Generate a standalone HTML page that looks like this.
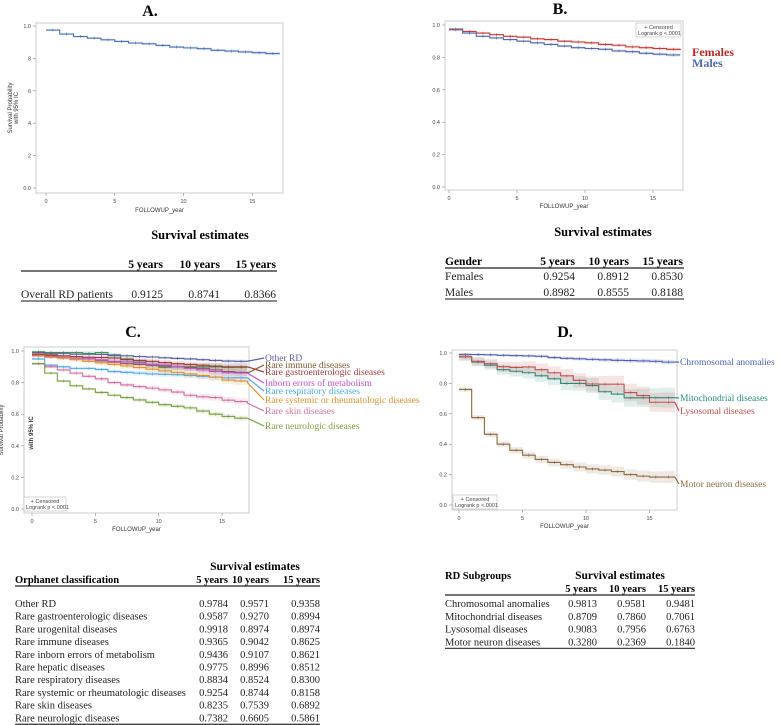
<!DOCTYPE html>
<html><head><meta charset="utf-8"><style>
html,body{margin:0;padding:0;background:#fff;}
svg{display:block;}
.tick{font-family:"Liberation Sans",sans-serif;font-size:5.5px;fill:#444;}
.axl{font-family:"Liberation Sans",sans-serif;font-size:6px;fill:#333;}
.ser{font-family:"Liberation Serif",serif;}
</style></head><body>
<svg id="fig" width="781" height="725" viewBox="0 0 781 725" xmlns="http://www.w3.org/2000/svg"></svg>
<script>
// ---------- data ----------
const years = [0,1,2,3,4,5,6,7,8,9,10,11,12,13,14,15,16,17];
const xTicks = [0,5,10,15];
const yTicks = [0,0.2,0.4,0.6,0.8,1.0];
const yTickLabelsA = ["0.0","2","4","6","8","1.0"];
const yTickLabels = ["0.0","0.2","0.4","0.6","0.8","1.0"];

const overallA = [0.975,0.95,0.935,0.925,0.915,0.905,0.895,0.89,0.88,0.87,0.865,0.86,0.85,0.845,0.84,0.835,0.83,0.83];

const femalesB = [0.975,0.96,0.95,0.94,0.93,0.925,0.915,0.91,0.90,0.895,0.89,0.88,0.875,0.865,0.86,0.855,0.85,0.845];
const malesB = [0.97,0.95,0.93,0.92,0.91,0.90,0.89,0.88,0.87,0.86,0.855,0.85,0.84,0.835,0.825,0.82,0.815,0.815];

const otherRD = [0.99,0.985,0.985,0.98,0.98,0.978,0.975,0.97,0.965,0.962,0.957,0.953,0.95,0.945,0.94,0.936,0.935,0.935];
const urogenital = [0.995,0.99,0.99,0.99,0.985,0.99,0.97,0.95,0.93,0.91,0.897,0.9,0.9,0.9,0.9,0.897,0.897,0.897];
const immune = [0.975,0.97,0.96,0.955,0.95,0.937,0.93,0.92,0.915,0.91,0.904,0.9,0.895,0.89,0.88,0.87,0.865,0.86];
const gastro = [0.98,0.975,0.97,0.965,0.96,0.959,0.955,0.945,0.94,0.935,0.927,0.92,0.915,0.91,0.905,0.9,0.9,0.9];
const inborn = [0.97,0.965,0.96,0.955,0.95,0.944,0.935,0.93,0.925,0.915,0.911,0.9,0.89,0.88,0.87,0.862,0.86,0.86];
const respiratory = [0.95,0.91,0.9,0.89,0.89,0.883,0.87,0.865,0.86,0.855,0.852,0.85,0.845,0.84,0.835,0.83,0.83,0.83];
const systemic = [0.97,0.96,0.955,0.945,0.935,0.925,0.915,0.905,0.895,0.885,0.874,0.865,0.855,0.845,0.835,0.816,0.81,0.80];
const skin = [0.92,0.9,0.88,0.86,0.84,0.824,0.8,0.785,0.775,0.765,0.754,0.74,0.72,0.71,0.705,0.689,0.68,0.67];
const neuro = [0.92,0.86,0.81,0.78,0.76,0.738,0.72,0.705,0.69,0.675,0.66,0.65,0.64,0.62,0.6,0.586,0.575,0.575];

const chromosomal = [0.99,0.99,0.988,0.985,0.983,0.981,0.978,0.97,0.965,0.962,0.958,0.955,0.952,0.95,0.948,0.945,0.94,0.94];
const mitochondrial = [0.975,0.94,0.92,0.89,0.88,0.87,0.85,0.83,0.80,0.80,0.786,0.745,0.73,0.705,0.705,0.706,0.706,0.706];
const lysosomal = [0.975,0.945,0.93,0.91,0.905,0.908,0.89,0.87,0.85,0.82,0.796,0.795,0.795,0.74,0.72,0.676,0.676,0.676];
const motor = [0.76,0.575,0.465,0.40,0.36,0.328,0.30,0.28,0.265,0.25,0.237,0.23,0.22,0.2,0.19,0.184,0.184,0.184];

const colHeads = ["5 years","10 years","15 years"];
const tableARows = [["Overall RD patients","0.9125","0.8741","0.8366"]];
const tableBRows = [["Females","0.9254","0.8912","0.8530"],["Males","0.8982","0.8555","0.8188"]];
const tableCRows = [
 ["Other RD","0.9784","0.9571","0.9358"],
 ["Rare gastroenterologic diseases","0.9587","0.9270","0.8994"],
 ["Rare urogenital diseases","0.9918","0.8974","0.8974"],
 ["Rare immune diseases","0.9365","0.9042","0.8625"],
 ["Rare inborn errors of metabolism","0.9436","0.9107","0.8621"],
 ["Rare hepatic diseases","0.9775","0.8996","0.8512"],
 ["Rare respiratory diseases","0.8834","0.8524","0.8300"],
 ["Rare systemic or rheumatologic diseases","0.9254","0.8744","0.8158"],
 ["Rare skin diseases","0.8235","0.7539","0.6892"],
 ["Rare neurologic diseases","0.7382","0.6605","0.5861"]];
const tableDRows = [
 ["Chromosomal anomalies","0.9813","0.9581","0.9481"],
 ["Mitochondrial diseases","0.8709","0.7860","0.7061"],
 ["Lysosomal diseases","0.9083","0.7956","0.6763"],
 ["Motor neuron diseases","0.3280","0.2369","0.1840"]];

// ---------- helpers ----------
const NS="http://www.w3.org/2000/svg";
const fig=document.getElementById('fig');
function mk(tag,attrs,parent,txt){const e=document.createElementNS(NS,tag);for(const k in attrs)e.setAttribute(k,attrs[k]);if(txt!==undefined)e.textContent=txt;(parent||fig).appendChild(e);return e;}

function panel(cfg){
  const g=mk('g',{});
  
  
  const sx=t=>cfg.x0+t*cfg.px;
  const sy=v=>cfg.yAt0+(cfg.yAt1-cfg.yAt0)*v;
  const [l,t,r,b]=cfg.box;
  const frame=mk('rect',{x:l,y:t,width:r-l,height:b-t,fill:'none',stroke:'#c8ccd2','stroke-width':1},g);
  
  
  yTicks.forEach((v,i)=>{
    mk('line',{x1:l-3,x2:l,y1:sy(v),y2:sy(v),stroke:'#888','stroke-width':0.6},g);
    const tx=mk('text',{x:l-5,y:sy(v)+2,'text-anchor':'end',class:'tick'},g,cfg.yLabels[i]);
    
    
  });
  xTicks.forEach(v=>{
    mk('line',{x1:sx(v),x2:sx(v),y1:b,y2:b+3,stroke:'#888','stroke-width':0.6},g);
    const tx=mk('text',{x:sx(v),y:b+10,'text-anchor':'middle',class:'tick'},g,String(v));
    
    
  });
  const xl=mk('text',{x:(l+r)/2,y:cfg.xlabY,'text-anchor':'middle',class:'axl'},g,'FOLLOWUP_year');
  
  
  cfg.series.forEach(s=>{
    const up=[],lo=[];
    years.forEach((yr,i)=>{const nx=i<years.length-1?years[i+1]:yr;
      up.push([sx(yr),sy(Math.min(1,s.v[i]+s.ci*(1+i/10))),sx(nx)]);
      lo.push([sx(yr),sy(Math.max(0,s.v[i]-s.ci*(1+i/10))),sx(nx)]);});
    let d='M'+up[0][0]+','+up[0][1];
    up.forEach(p=>{d+=' L'+p[0]+','+p[1]+' L'+p[2]+','+p[1];});
    for(let i=lo.length-1;i>=0;i--){d+=' L'+lo[i][2]+','+lo[i][1]+' L'+lo[i][0]+','+lo[i][1];}
    d+='Z';
    const bd=mk('path',{d:d,fill:s.c,'fill-opacity':0.15,stroke:'none'},g);
    
    
    let p='M'+sx(0)+','+sy(s.v[0]);
    years.forEach((yr,i)=>{
      if(i>0)p+=' L'+sx(yr)+','+sy(s.v[i-1])+' L'+sx(yr)+','+sy(s.v[i]);
    });
    p+=' L'+sx(17)+','+sy(s.v[17]);
    const ln=mk('path',{d:p,fill:'none',stroke:s.c,'stroke-width':1.1},g);
    
    
    years.forEach((yr,i)=>{ if(i>0){const cx=sx(yr-0.5);
      mk('line',{x1:cx,x2:cx,y1:sy(s.v[i-1])-1.5,y2:sy(s.v[i-1])+1.5,stroke:s.c,'stroke-width':0.6},g);}});
    if(s.label){
      const lk=mk('line',{x1:sx(17),y1:sy(s.v[17]),x2:cfg.labX-1,y2:s.ly-3,stroke:s.c,'stroke-width':1.2},g);
      
      
      const lt=mk('text',{x:cfg.labX,y:s.ly,fill:s.lc||s.c,class:'ser','font-size':cfg.labFs,'font-weight':cfg.labBold?'bold':'normal'},g,s.label);
      
      
    }
  });
  return {g,sx,sy};
}

function title(x,y,txt,name){const t=mk('text',{x:x,y:y,'text-anchor':'middle',class:'ser','font-size':16,'font-weight':'bold'},fig,txt);
  }

function censorBox(x,y,w,name){const g=mk('g',{});
  
  mk('rect',{x:x,y:y,width:w,height:14,fill:'#fff',stroke:'#bbb','stroke-width':0.6},g);
  mk('text',{x:x+w/2,y:y+6,'text-anchor':'middle',class:'tick','font-size':4.5},g,'+ Censored');
  mk('text',{x:x+2,y:y+12,class:'tick','font-size':4.5},g,'Logrank p <.0001');}

function table(cfg){
  const g=mk('g',{});
  
  const fs=cfg.fs;
  if(cfg.title){const t=mk('text',{x:cfg.titleX,y:cfg.titleY,'text-anchor':'middle',class:'ser','font-size':fs+1,'font-weight':'bold'},g,'Survival estimates');
    }
  if(cfg.firstHead){const t=mk('text',{x:cfg.left,y:cfg.firstHeadY||cfg.headY,class:'ser','font-size':fs,'font-weight':'bold'},g,cfg.firstHead);
    }
  colHeads.forEach((h,i)=>{const t=mk('text',{x:cfg.cols[i],y:cfg.headY,'text-anchor':'end',class:'ser','font-size':fs,'font-weight':'bold'},g,h);
    });
  mk('line',{x1:cfg.left,x2:cfg.right,y1:cfg.headY+3,y2:cfg.headY+3,stroke:'#222','stroke-width':1.3},g);
  cfg.rows.forEach((r,i)=>{const y=cfg.row0+i*cfg.step;
    const t=mk('text',{x:cfg.left,y:y,class:'ser','font-size':fs,fill:'#222'},g,r[0]);
    
    for(let j=1;j<4;j++){const v=mk('text',{x:cfg.cols[j-1],y:y,'text-anchor':'end',class:'ser','font-size':fs,fill:'#222'},g,r[j]);
      }});
  const by=cfg.row0+(cfg.rows.length-1)*cfg.step+3;
  mk('line',{x1:cfg.left,x2:cfg.right,y1:by,y2:by,stroke:'#444','stroke-width':1.3},g);
}

// ---------- Panel A ----------
title(150,16,'A.','panel-a-title');
panel({name:'panel-a-chart',box:[36,23,283,193],x0:46,px:13.75,yAt1:26,yAt0:188,yLabels:yTickLabelsA,xlabY:212,
  series:[{id:'overall',v:overallA,c:'#4a72b8',ci:0.004}]});
mk('text',{x:12,y:108,'text-anchor':'middle',class:'axl','font-size':5.5,transform:'rotate(-90 12 108)'},fig,'Survival Probability');
mk('text',{x:18,y:108,'text-anchor':'middle',class:'axl','font-size':5.5,transform:'rotate(-90 18 108)'},fig,'with 95% IC');
table({name:'table-a',fs:11.5,title:true,titleX:200,titleY:239,headY:268,left:21,right:277,cols:[163,220,276],rows:tableARows,row0:298,step:16});

// ---------- Panel B ----------
title(560,14,'B.','panel-b-title');
panel({name:'panel-b-chart',box:[445,21,683,190],x0:449,px:13.6,yAt1:25,yAt0:187,yLabels:yTickLabels,xlabY:208,labX:692,labFs:12,labBold:true,
  series:[{id:'females',v:femalesB,c:'#c83a3a',ci:0.004},{id:'males',v:malesB,c:'#5068b0',ci:0.004}]});
mk('text',{x:692,y:56,class:'ser','font-size':12,'font-weight':'bold',fill:'#c02828'},fig,'Females');
mk('text',{x:692,y:67,class:'ser','font-size':12,'font-weight':'bold',fill:'#5068b0'},fig,'Males');
censorBox(636,23,45,'panel-b-legend');
table({name:'table-b',fs:11.5,title:true,titleX:603,titleY:236,firstHead:'Gender',headY:265,left:445,right:684,cols:[575,629,683],rows:tableBRows,row0:280,step:16});

// ---------- Panel C ----------
title(133,337,'C.','panel-c-title');
panel({name:'panel-c-chart',box:[24,347,249,513],x0:32,px:12.67,yAt1:351,yAt0:509,yLabels:yTickLabels,xlabY:531,labX:265,labFs:9.5,
  series:[
   {id:'urogenital',v:urogenital,c:'#3a9a50',ci:0.01},
   {id:'other-rd',v:otherRD,c:'#5a5fa5',ci:0.004,label:'Other RD',ly:361},
   {id:'immune',v:immune,c:'#7a5a30',ci:0.01,label:'Rare immune diseases',ly:368},
   {id:'gastro',v:gastro,c:'#a03a3a',ci:0.008,label:'Rare gastroenterologic diseases',ly:375},
   {id:'inborn',v:inborn,c:'#c050d0',ci:0.008,label:'Inborn errors of metabolism',ly:386},
   {id:'respiratory',v:respiratory,c:'#4aa8e8',ci:0.008,label:'Rare respiratory diseases',ly:394},
   {id:'systemic',v:systemic,c:'#e09030',ci:0.01,label:'Rare systemic or rheumatologic diseases',ly:403},
   {id:'skin',v:skin,c:'#d070a0',ci:0.008,label:'Rare skin diseases',ly:414},
   {id:'neuro',v:neuro,c:'#7aa040',ci:0.006,label:'Rare neurologic diseases',ly:429}]});
mk('text',{x:3,y:430,'text-anchor':'middle',class:'axl','font-size':5,transform:'rotate(-90 3 430)'},fig,'Survival Probability');
mk('text',{x:33,y:433,'text-anchor':'middle',class:'axl','font-size':4.5,'font-weight':'bold',transform:'rotate(-90 33 433)'},fig,'with 95% IC');
censorBox(24,497,42,'panel-c-legend');
table({name:'table-c',fs:10.5,title:true,titleX:255,titleY:570,firstHead:'Orphanet classification',headY:583,left:15,right:320,cols:[228,269,320],rows:tableCRows,row0:607,step:12.7});

// ---------- Panel D ----------
title(565,337,'D.','panel-d-title');
panel({name:'panel-d-chart',box:[452,350,677,510],x0:459,px:12.7,yAt1:353,yAt0:505,yLabels:yTickLabels,xlabY:528,labX:680,labFs:9.5,
  series:[
   {id:'chromosomal',v:chromosomal,c:'#5060b0',ci:0.006,label:'Chromosomal anomalies',ly:365},
   {id:'mitochondrial',v:mitochondrial,c:'#2a8a7a',ci:0.025,label:'Mitochondrial diseases',ly:401},
   {id:'lysosomal',v:lysosomal,c:'#c05050',ci:0.025,label:'Lysosomal diseases',ly:414},
   {id:'motor',v:motor,c:'#8a6a40',ci:0.015,label:'Motor neuron diseases',ly:487}]});
censorBox(453,495,44,'panel-d-legend');
table({name:'table-d',fs:10.5,title:true,titleX:620,titleY:579,firstHead:'RD Subgroups',firstHeadY:579,headY:592,left:445,right:695,cols:[597,646,695],rows:tableDRows,row0:607,step:12.8});
</script>
</body></html>
